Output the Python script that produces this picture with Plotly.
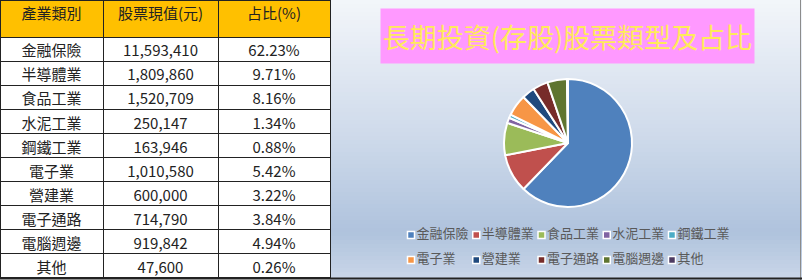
import plotly.graph_objects as go

# ---- data ----
categories = ["金融保險", "半導體業", "食品工業", "水泥工業", "鋼鐵工業",
              "電子業", "營建業", "電子通路", "電腦週邊", "其他"]
values = [11593410, 1809860, 1520709, 250147, 163946,
          1010580, 600000, 714790, 919842, 47600]
shares = ["62.23%", "9.71%", "8.16%", "1.34%", "0.88%",
          "5.42%", "3.22%", "3.84%", "4.94%", "0.26%"]
headers = ["產業類別", "股票現值(元)", "占比(%)"]
title_text = "長期投資(存股)股票類型及占比"

colors = ["#4F81BD", "#C0504D", "#9BBB59", "#8064A2", "#4BACC6",
          "#F79646", "#1F497D", "#772C2A", "#5F7530", "#4D3B62"]

W, H = 802, 280
FONT = "Noto Sans CJK TC"

fig = go.Figure()

# ---- table ----
fig.add_trace(go.Table(
    domain=dict(x=[0, 330 / W], y=[2 / H, 1]),
    columnwidth=[103, 115, 112],
    header=dict(values=headers, fill_color="#FFC000",
                line=dict(color="#222222", width=1),
                font=dict(family=FONT, size=15, color="#222222"),
                align="center", height=37),
    cells=dict(values=[categories, [f"{v:,}" for v in values], shares],
               fill_color="white", line=dict(color="#222222", width=1),
               font=dict(family=FONT, size=15, color="#222222"),
               align="center", height=24.1),
))

# ---- pie ----
cx, cy, r = 568, 143, 64
fig.add_trace(go.Pie(
    labels=categories, values=values, sort=False, direction="clockwise",
    rotation=0, textinfo="none", hoverinfo="label+value+percent",
    marker=dict(colors=colors, line=dict(color="white", width=2)),
    domain=dict(x=[(cx - r) / W, (cx + r) / W], y=[1 - (cy + r) / H, 1 - (cy - r) / H]),
    showlegend=False,
))

# ---- custom legend (Excel-style grid, 5 columns x 2 rows) ----
ncol = 5
fig.add_trace(go.Scatter(
    x=[i % ncol for i in range(len(categories))],
    y=[i // ncol for i in range(len(categories))],
    mode="markers+text", text=categories, textposition="middle right",
    marker=dict(symbol="square", size=7, color=colors, line=dict(color="white", width=1.5)),
    textfont=dict(family=FONT, size=13, color="#595959"),
    cliponaxis=False, showlegend=False, hoverinfo="text",
    xaxis="x", yaxis="y",
))

# ---- gradient panel background ----
def lerp(a, b, t):
    return tuple(round(a[k] + (b[k] - a[k]) * t) for k in range(3))

stops = [(0, (243, 246, 250)), (140, (205, 217, 234)), (232, (175, 195, 221)), (280, (202, 214, 232))]
shapes = []
step = 4
for y0 in range(0, H, step):
    ym = y0 + step / 2
    for (ya, ca), (yb, cb) in zip(stops[:-1], stops[1:]):
        if ya <= ym <= yb:
            c = lerp(ca, cb, (ym - ya) / (yb - ya))
            break
    shapes.append(dict(type="rect", xref="paper", yref="paper", layer="below",
                       x0=330 / W, x1=1, y0=1 - (y0 + step) / H, y1=1 - y0 / H,
                       fillcolor="rgb(%d,%d,%d)" % c, line=dict(width=0)))
# panel outline
shapes.append(dict(type="line", xref="paper", yref="paper", x0=800.5 / W, x1=800.5 / W,
                   y0=0, y1=1, line=dict(color="#8c8c8c", width=1)))
shapes.append(dict(type="line", xref="paper", yref="paper", x0=0, x1=1,
                   y0=1.5 / H, y1=1.5 / H, line=dict(color="#222222", width=2)))

fig.update_layout(
    width=W, height=H, margin=dict(l=0, r=0, t=0, b=0),
    paper_bgcolor="white", plot_bgcolor="rgba(0,0,0,0)",
    shapes=shapes,
    xaxis=dict(domain=[411 / W, 672 / W], range=[0, 4], visible=False, fixedrange=True),
    yaxis=dict(domain=[1 - 260 / H, 1 - 235 / H], range=[1, 0], visible=False, fixedrange=True),
    annotations=[dict(
        text=title_text, xref="paper", yref="paper", x=567.5 / W, y=1 - 36 / H,
        xanchor="center", yanchor="middle", showarrow=False,
        width=371, height=52, bgcolor="#FF99FF",
        font=dict(family=FONT, size=27, color="#FFEB5A"),
    )],
    font=dict(family=FONT),
)

fig.write_html("out.html")
